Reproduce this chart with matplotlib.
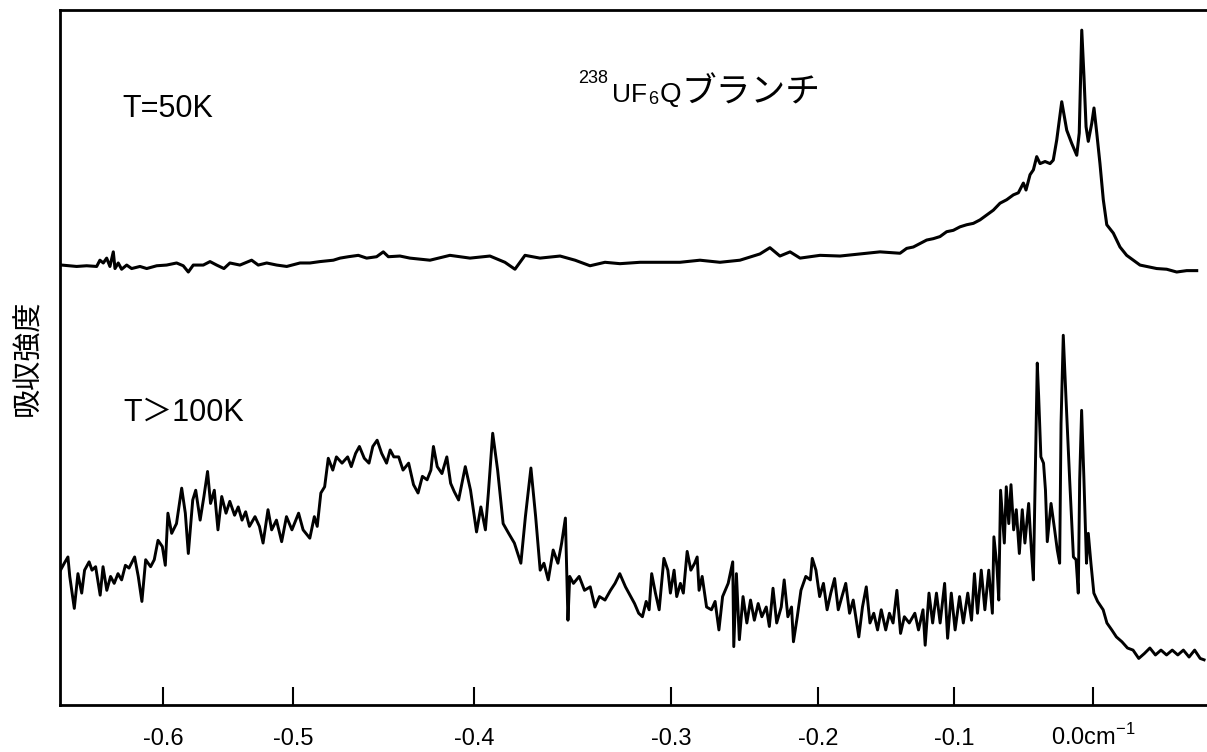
import numpy as np
import matplotlib
matplotlib.use("Agg")
import matplotlib.pyplot as plt

plt.rcParams['font.family'] = ['Liberation Sans', 'Noto Sans CJK JP']
plt.rcParams['mathtext.fontset'] = 'custom'
plt.rcParams['mathtext.rm'] = 'Liberation Sans'

# T = 50K trace (wavenumber in cm-1, absorption in arbitrary units)
x50 = [-0.6779, -0.6664, -0.6587, -0.6510, -0.6485, -0.6459, -0.6433, -0.6408, -0.6382, -0.6369,
       -0.6344, -0.6318, -0.6279, -0.6241, -0.6177, -0.6125, -0.6048, -0.5972, -0.5895, -0.5844,
       -0.5805, -0.5767, -0.5690, -0.5638, -0.5587, -0.5531, -0.5485, -0.5408, -0.5318, -0.5267,
       -0.5202, -0.5125, -0.5048, -0.4961, -0.4906, -0.4851, -0.4777, -0.4740, -0.4694, -0.4639,
       -0.4593, -0.4538, -0.4501, -0.4473, -0.4409, -0.4354, -0.4243, -0.4133, -0.4022, -0.3919,
       -0.3843, -0.3792, -0.3741, -0.3665, -0.3563, -0.3487, -0.3411, -0.3335, -0.3259, -0.3157,
       -0.3056, -0.2939, -0.2803, -0.2667, -0.2531, -0.2395, -0.2327, -0.2259, -0.2190, -0.2122,
       -0.1985, -0.1838, -0.1691, -0.1544, -0.1397, -0.1348, -0.1299, -0.1250, -0.1201, -0.1152,
       -0.1103, -0.1054, -0.1005, -0.0957, -0.0909, -0.0861, -0.0813, -0.0765, -0.0717, -0.0669,
       -0.0621, -0.0573, -0.0537, -0.0501, -0.0482, -0.0453, -0.0429, -0.0405, -0.0381, -0.0345,
       -0.0309, -0.0286, -0.0261, -0.0225, -0.0189, -0.0153, -0.0117, -0.0099, -0.0081, -0.0065,
       -0.0050, -0.0034, -0.0009, 0.0007, 0.0027, 0.0050, 0.0074, 0.0099, 0.0146, 0.0194,
       0.0242, 0.0290, 0.0338, 0.0386, 0.0458, 0.0530, 0.0602, 0.0674, 0.0746]
y50 = [63.3, 63.1, 63.2, 63.1, 64.0, 63.6, 64.3, 63.1, 65.2, 62.8,
       63.6, 62.7, 63.3, 62.8, 63.1, 62.8, 63.2, 63.3, 63.6, 63.2,
       62.3, 63.3, 63.3, 63.8, 63.3, 62.8, 63.6, 63.3, 64.0, 63.3,
       63.6, 63.3, 63.1, 63.6, 63.6, 63.8, 64.0, 64.3, 64.5, 64.7,
       64.3, 64.5, 65.2, 64.5, 64.6, 64.3, 64.0, 64.7, 64.3, 64.6,
       63.7, 62.7, 64.7, 64.3, 64.6, 64.0, 63.2, 63.7, 63.5, 63.7,
       63.7, 63.7, 64.0, 63.7, 64.0, 64.9, 65.8, 64.6, 65.2, 64.3,
       64.7, 64.6, 64.9, 65.2, 65.0, 65.7, 65.9, 66.4, 66.9, 67.1,
       67.4, 68.1, 68.3, 68.8, 69.1, 69.3, 69.8, 70.5, 71.2, 72.2,
       72.7, 73.4, 73.7, 75.1, 74.1, 76.3, 77.0, 78.9, 77.9, 78.2,
       77.9, 78.4, 81.3, 86.8, 82.7, 80.8, 79.1, 82.3, 97.1, 90.4,
       83.2, 81.1, 83.7, 85.9, 82.3, 77.9, 72.7, 69.1, 67.9, 65.9,
       64.7, 64.0, 63.3, 63.1, 62.8, 62.7, 62.3, 62.5, 62.5]

# T > 100K trace
x100 = [-0.6788, -0.6759, -0.6731, -0.6717, -0.6682, -0.6654, -0.6625, -0.6603, -0.6568, -0.6546,
        -0.6518, -0.6483, -0.6461, -0.6432, -0.6403, -0.6375, -0.6346, -0.6318, -0.6289, -0.6261,
        -0.6218, -0.6190, -0.6162, -0.6133, -0.6095, -0.6067, -0.6038, -0.6005, -0.5982, -0.5962,
        -0.5933, -0.5896, -0.5856, -0.5828, -0.5805, -0.5771, -0.5748, -0.5714, -0.5685, -0.5657,
        -0.5634, -0.5605, -0.5577, -0.5548, -0.5515, -0.5486, -0.5449, -0.5421, -0.5392, -0.5364,
        -0.5335, -0.5292, -0.5258, -0.5230, -0.5192, -0.5164, -0.5127, -0.5087, -0.5050, -0.5008,
        -0.4969, -0.4944, -0.4907, -0.4882, -0.4866, -0.4846, -0.4825, -0.4805, -0.4780, -0.4760,
        -0.4729, -0.4698, -0.4678, -0.4654, -0.4633, -0.4606, -0.4580, -0.4559, -0.4535, -0.4510,
        -0.4483, -0.4463, -0.4443, -0.4416, -0.4392, -0.4361, -0.4334, -0.4309, -0.4285, -0.4259,
        -0.4238, -0.4224, -0.4203, -0.4177, -0.4150, -0.4129, -0.4109, -0.4085, -0.4048, -0.4019,
        -0.3987, -0.3965, -0.3942, -0.3927, -0.3905, -0.3880, -0.3852, -0.3824, -0.3795, -0.3762,
        -0.3739, -0.3711, -0.3687, -0.3664, -0.3645, -0.3623, -0.3598, -0.3574, -0.3555, -0.3536,
        -0.3523, -0.3514, -0.3495, -0.3466, -0.3439, -0.3410, -0.3386, -0.3363, -0.3335, -0.3307,
        -0.3284, -0.3260, -0.3231, -0.3204, -0.3185, -0.3164, -0.3145, -0.3126, -0.3111, -0.3098,
        -0.3079, -0.3060, -0.3036, -0.3016, -0.3003, -0.2979, -0.2961, -0.2936, -0.2916, -0.2890,
        -0.2865, -0.2839, -0.2822, -0.2809, -0.2788, -0.2758, -0.2725, -0.2700, -0.2674, -0.2649,
        -0.2611, -0.2580, -0.2573, -0.2555, -0.2535, -0.2510, -0.2484, -0.2459, -0.2433, -0.2407,
        -0.2382, -0.2352, -0.2331, -0.2306, -0.2281, -0.2250, -0.2230, -0.2205, -0.2180, -0.2167,
        -0.2141, -0.2116, -0.2083, -0.2052, -0.2039, -0.2014, -0.1988, -0.1960, -0.1933, -0.1906,
        -0.1878, -0.1851, -0.1824, -0.1796, -0.1768, -0.1741, -0.1700, -0.1673, -0.1645, -0.1618,
        -0.1590, -0.1562, -0.1535, -0.1502, -0.1475, -0.1448, -0.1420, -0.1393, -0.1365, -0.1329,
        -0.1288, -0.1261, -0.1228, -0.1212, -0.1184, -0.1157, -0.1129, -0.1102, -0.1069, -0.1047,
        -0.1020, -0.0992, -0.0960, -0.0933, -0.0901, -0.0874, -0.0853, -0.0831, -0.0804, -0.0778,
        -0.0750, -0.0724, -0.0713, -0.0691, -0.0678, -0.0665, -0.0638, -0.0624, -0.0606, -0.0590,
        -0.0571, -0.0552, -0.0530, -0.0509, -0.0490, -0.0463, -0.0445, -0.0429, -0.0410, -0.0401,
        -0.0391, -0.0375, -0.0356, -0.0342, -0.0329, -0.0302, -0.0276, -0.0257, -0.0240, -0.0230,
        -0.0214, -0.0195, -0.0168, -0.0141, -0.0122, -0.0106, -0.0096, -0.0082, -0.0066, -0.0047,
        -0.0034, -0.0015, 0.0006, 0.0033, 0.0073, 0.0100, 0.0135, 0.0168, 0.0208, 0.0248,
        0.0288, 0.0329, 0.0369, 0.0409, 0.0449, 0.0489, 0.0529, 0.0570, 0.0610, 0.0650,
        0.0691, 0.0731, 0.0771, 0.0799]
y100 = [19.4, 20.4, 21.3, 18.5, 13.9, 18.9, 16.1, 19.4, 20.6, 19.4,
        19.9, 15.8, 19.9, 16.5, 18.5, 17.5, 18.9, 18.0, 20.1, 19.7,
        21.3, 18.5, 14.9, 20.9, 19.9, 20.9, 23.7, 22.8, 20.1, 27.6,
        24.7, 26.1, 31.2, 27.6, 21.8, 29.5, 30.9, 26.6, 30.0, 33.6,
        29.0, 30.9, 25.2, 30.0, 27.6, 29.3, 27.3, 28.5, 26.6, 27.8,
        25.7, 27.1, 25.7, 23.3, 28.1, 25.2, 26.6, 23.5, 27.1, 25.2,
        27.6, 25.2, 24.0, 27.1, 25.7, 30.5, 31.4, 35.5, 33.8, 35.7,
        34.8, 35.7, 34.3, 36.2, 37.2, 35.5, 34.8, 37.2, 38.1, 36.2,
        34.8, 36.7, 35.7, 35.7, 33.8, 34.8, 31.7, 30.5, 32.9, 32.4,
        33.8, 37.2, 34.3, 33.3, 35.7, 31.9, 30.7, 29.5, 34.3, 30.9,
        24.9, 28.5, 25.2, 30.5, 39.1, 33.8, 26.1, 24.7, 23.3, 20.4,
        27.1, 34.1, 27.1, 19.4, 20.4, 18.0, 22.3, 20.4, 23.3, 26.9,
        12.2, 18.5, 17.5, 18.5, 16.5, 17.0, 14.1, 15.6, 15.1, 16.5,
        17.5, 18.9, 17.0, 15.6, 14.6, 13.2, 12.7, 14.9, 13.7, 18.9,
        16.1, 13.7, 21.1, 19.4, 16.1, 19.4, 15.6, 17.5, 16.1, 22.1,
        19.4, 20.4, 21.3, 16.5, 18.5, 14.1, 13.7, 14.9, 10.8, 15.6,
        17.5, 20.6, 8.4, 18.9, 9.4, 15.6, 11.8, 15.1, 12.2, 14.6,
        12.7, 14.1, 11.3, 16.8, 11.8, 14.1, 18.0, 12.7, 14.1, 9.1,
        12.7, 16.5, 18.5, 18.0, 21.1, 19.4, 15.6, 17.5, 13.7, 16.1,
        18.2, 13.7, 15.6, 17.5, 13.2, 15.1, 9.8, 14.1, 17.0, 11.8,
        13.2, 10.8, 13.7, 10.8, 13.2, 11.8, 16.5, 10.3, 12.7, 11.8,
        13.2, 10.8, 13.7, 8.6, 16.1, 11.8, 16.1, 11.8, 17.5, 9.6,
        16.1, 10.8, 15.6, 11.8, 16.1, 12.2, 18.9, 13.2, 19.4, 13.7,
        19.4, 13.2, 24.2, 19.9, 15.1, 30.9, 23.3, 31.4, 26.1, 31.7,
        25.2, 28.1, 21.8, 28.1, 23.3, 29.0, 22.8, 18.0, 39.6, 49.2,
        44.4, 35.7, 34.8, 30.9, 23.5, 29.0, 25.2, 22.3, 20.4, 40.5,
        53.2, 44.4, 32.4, 21.3, 20.9, 16.1, 32.4, 42.4, 32.9, 20.4,
        24.7, 20.4, 16.1, 14.9, 13.7, 11.8, 10.8, 9.8, 9.1, 8.2,
        7.9, 6.7, 7.4, 8.2, 7.2, 7.9, 7.2, 7.9, 7.2, 7.9,
        6.9, 7.9, 6.7, 6.5]

tick_vals = [-0.6, -0.5, -0.4, -0.3, -0.2, -0.1, 0.0]
tick_labels = ['-0.6', '-0.5', '-0.4', '-0.3', '-0.2', '-0.1', r'0.0cm$^{\mathregular{-1}}$']
# the printed axis is not linear: relative spacing of each 0.1 cm-1 step
tick_gaps = [130, 181, 197, 147, 136, 139]

tv = np.array(tick_vals)
tp = np.concatenate([[0.0], np.cumsum(tick_gaps)])
s_lo = tick_gaps[0] / 0.1
s_hi = tick_gaps[-1] / 0.1


def fwd(x):
    x = np.asarray(x, dtype=float)
    y = np.interp(x, tv, tp)
    y = np.where(x < tv[0], tp[0] + (x - tv[0]) * s_lo, y)
    y = np.where(x > tv[-1], tp[-1] + (x - tv[-1]) * s_hi, y)
    return y


def inv(y):
    y = np.asarray(y, dtype=float)
    x = np.interp(y, tp, tv)
    x = np.where(y < tp[0], tv[0] + (y - tp[0]) / s_lo, x)
    x = np.where(y > tp[-1], tv[-1] + (y - tp[-1]) / s_hi, x)
    return x


fig = plt.figure(figsize=(12.07, 7.52), dpi=100)
ax = fig.add_axes([60 / 1207, 47 / 752, 1147 / 1207, 695 / 752])
ax.set_xscale('function', functions=(fwd, inv))

ax.plot(x50, y50, color='black', linewidth=2.2)
ax.plot(x100, y100, color='black', linewidth=2.1)

ax.set_xlim(-0.6792, 0.0820)
ax.set_ylim(0, 100)
ax.set_xticks(tick_vals)
ax.set_xticklabels(tick_labels)
ax.xaxis.set_minor_locator(matplotlib.ticker.NullLocator())
ax.set_yticks([])
ax.tick_params(axis='x', direction='in', length=13, width=1.5, labelsize=17, pad=29)
for lab in ax.get_xticklabels():
    lab.set_verticalalignment('baseline')

for side in ['left', 'bottom', 'top']:
    ax.spines[side].set_linewidth(2.0)
ax.spines['right'].set_visible(False)

ax.set_ylabel('吸収強度', fontsize=21)
ax.yaxis.set_label_coords(-0.0155, 0.5)

ax.text(0.054, 0.857, 'T=50K', transform=ax.transAxes, fontsize=22, va='center', ha='left')
ax.text(0.055, 0.421, 'T＞100K', transform=ax.transAxes, fontsize=22, va='center', ha='left')

# title: 238UF6 Q branch
fig.text(578 / 1207, 1 - 83 / 752, '238', fontsize=13, va='baseline')
fig.text(612 / 1207, 1 - 102 / 752, 'UF', fontsize=19, va='baseline')
fig.text(648 / 1207, 1 - 104 / 752, '6', fontsize=13, va='baseline')
fig.text(660 / 1207, 1 - 102 / 752, 'Q', fontsize=20, va='baseline')
fig.text(681 / 1207, 1 - 102 / 752, 'ブランチ', fontsize=25, va='baseline')

fig.savefig('out.png', dpi=100)
